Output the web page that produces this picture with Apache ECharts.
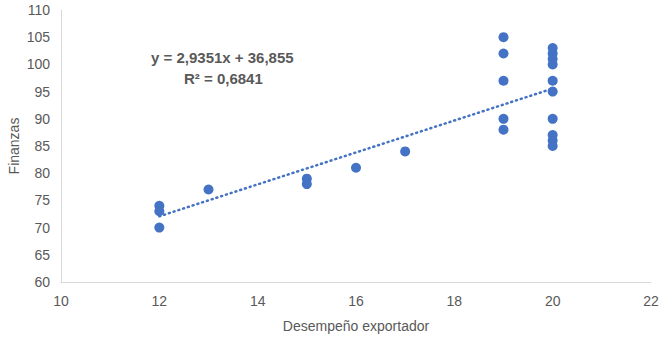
<!DOCTYPE html>
<html>
<head>
<meta charset="utf-8">
<script src="https://cdn.jsdelivr.net/npm/echarts@6/dist/echarts.min.js"></script>
<style>
  html, body { margin: 0; padding: 0; background: #fff; }
  #chart { width: 660px; height: 339px; }
</style>
</head>
<body>
<div id="chart"></div>
<script>
// Export performance (x) vs. finance score (y), one entry per firm
const desempeno = [12, 12, 12, 13, 15, 15, 16, 17, 19, 19, 19, 19, 19, 20, 20, 20, 20, 20, 20, 20, 20, 20, 20];
const finanzas  = [74, 73, 70, 77, 79, 78, 81, 84, 105, 102, 97, 90, 88, 103, 102, 101, 100, 97, 95, 90, 87, 86, 85];

// Linear trend line fitted to the data
const pendiente = 2.9351;
const intercepto = 36.855;
const r2 = 0.6841;

const xTicks = [10, 12, 14, 16, 18, 20, 22];
const yTicks = [60, 65, 70, 75, 80, 85, 90, 95, 100, 105, 110];

const fmt = (v, d) => v.toFixed(d).replace('.', ',');

const puntos = desempeno.map((x, i) => [x, finanzas[i]]);
const xMin = Math.min(...desempeno);
const xMax = Math.max(...desempeno);
const tendencia = [xMin, xMax].map(x => [x, pendiente * x + intercepto]);

const font = '"Liberation Sans", Arial, sans-serif';
const textColor = '#595959';

const chart = echarts.init(document.getElementById('chart'), null, { renderer: 'svg' });
chart.setOption({
  animation: false,
  grid: { left: 61, right: 9, top: 10, bottom: 57, outerBoundsMode: 'none', containLabel: false },
  xAxis: {
    type: 'value',
    min: xTicks[0], max: xTicks[xTicks.length - 1], interval: 2,
    name: 'Desempeño exportador',
    nameLocation: 'middle', nameGap: 37,
    nameTextStyle: { color: textColor, fontSize: 14, fontFamily: font },
    axisLine: { show: true, lineStyle: { color: '#d9d9d9', width: 1 } },
    axisTick: { show: false },
    splitLine: { show: false },
    axisLabel: { color: textColor, fontSize: 14, fontFamily: font, margin: 12 }
  },
  yAxis: {
    type: 'value',
    min: yTicks[0], max: yTicks[yTicks.length - 1], interval: 5,
    name: 'Finanzas',
    nameLocation: 'middle', nameGap: 40, nameMoveOverlap: false,
    nameTextStyle: { color: textColor, fontSize: 14, fontFamily: font },
    axisLine: { show: true, lineStyle: { color: '#d9d9d9', width: 1 } },
    axisTick: { show: false },
    splitLine: { show: false },
    axisLabel: { color: textColor, fontSize: 14, fontFamily: font, margin: 11 }
  },
  series: [
    {
      type: 'line',
      data: tendencia,
      symbol: 'none',
      z: 1,
      lineStyle: { color: '#4472c4', width: 2.5, type: [1, 4], cap: 'round' }
    },
    {
      type: 'scatter',
      data: puntos,
      symbol: 'circle',
      symbolSize: 10,
      z: 2,
      itemStyle: { color: '#4472c4', opacity: 1 }
    }
  ],
  graphic: [
    {
      type: 'text', left: 151, top: 50,
      style: {
        text: 'y = ' + fmt(pendiente, 4) + 'x + ' + fmt(intercepto, 3),
        fill: textColor, font: 'bold 15px ' + font
      }
    },
    {
      type: 'text', left: 184, top: 71,
      style: {
        text: 'R² = ' + fmt(r2, 4),
        fill: textColor, font: 'bold 15px ' + font
      }
    }
  ]
});
</script>
</body>
</html>
